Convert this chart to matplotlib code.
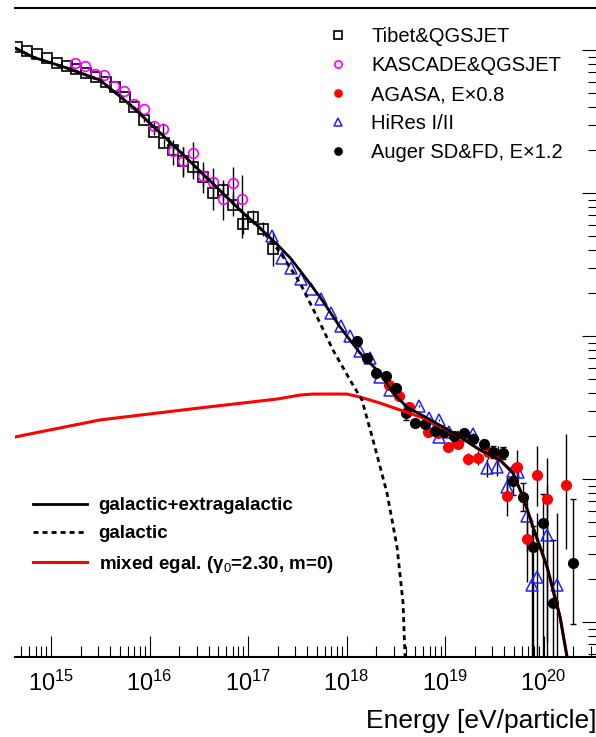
import numpy as np
import matplotlib.pyplot as plt
from matplotlib.ticker import FixedLocator, FuncFormatter

plt.rcParams['font.family'] = ['Liberation Sans', 'DejaVu Sans']
plt.rcParams['mathtext.fontset'] = 'custom'
plt.rcParams['mathtext.rm'] = 'Liberation Sans'
plt.rcParams['mathtext.it'] = 'Liberation Sans:italic'
plt.rcParams['mathtext.bf'] = 'Liberation Sans:bold'

# all values as log10(E/eV) and log10(flux, arbitrary units)
tibet_logE = [14.655, 14.756, 14.858, 14.959, 15.061, 15.162, 15.254, 15.355, 15.457, 15.558,
              15.650, 15.751, 15.843, 15.944, 16.046, 16.147, 16.239, 16.340, 16.442, 16.543,
              16.645, 16.746, 16.848, 16.949, 17.051, 17.152, 17.254]
tibet_logF = [27.021, 26.993, 26.972, 26.944, 26.909, 26.888, 26.867, 26.839, 26.811, 26.776,
              26.741, 26.671, 26.601, 26.510, 26.427, 26.350, 26.301, 26.224, 26.182, 26.112,
              26.000, 26.021, 25.916, 25.783, 25.832, 25.748, 25.608]
tibet_err = [0] * 12 + [0.01, 0.015, 0.02, 0.03, 0.04, 0.1, 0.05, 0.06, 0.12, 0.07,
                        0.08, 0.07, 0.05, 0.05, 0.12]

kascade_logE = [15.244, 15.345, 15.447, 15.538, 15.640, 15.741, 15.843, 15.944, 16.046, 16.137,
                16.239, 16.340, 16.442, 16.543, 16.645, 16.746, 16.848, 16.939]
kascade_logF = [26.909, 26.888, 26.832, 26.825, 26.748, 26.713, 26.622, 26.587, 26.469, 26.448,
                26.294, 26.224, 26.280, 26.119, 26.077, 25.958, 26.070, 25.958]
kascade_lo = [0] * 8 + [0.03, 0.04, 0.10, 0.11, 0.18, 0.12, 0.12, 0.15, 0.14, 0.27]
kascade_hi = [0] * 8 + [0.03, 0.04, 0.08, 0.10, 0.08, 0.10, 0.10, 0.12, 0.11, 0.17]

agasa_logE = [18.431, 18.533, 18.635, 18.827, 18.929, 19.030, 19.132, 19.234, 19.335, 19.437,
              19.538, 19.629, 19.731, 19.832, 19.934, 20.036, 20.228]
agasa_logF = [24.657, 24.580, 24.503, 24.329, 24.322, 24.224, 24.245, 24.140, 24.147, 24.189,
              24.168, 23.881, 24.084, 23.580, 24.028, 23.860, 23.958]
agasa_lo = [0.01, 0.01, 0.01, 0.02, 0.02, 0.03, 0.03, 0.04, 0.05, 0.05,
            0.06, 0.14, 0.12, 0.30, 0.22, 1.0, 0.45]
agasa_hi = [0.01, 0.01, 0.01, 0.02, 0.02, 0.03, 0.03, 0.04, 0.05, 0.05,
            0.06, 0.14, 0.12, 0.12, 0.20, 0.29, 0.36]

hires_logE = [17.244, 17.345, 17.437, 17.538, 17.640, 17.741, 17.843, 17.944, 18.036, 18.137,
              18.239, 18.340, 18.442, 18.736, 18.838, 18.939, 18.939, 19.041, 19.132, 19.284,
              19.426, 19.528, 19.629, 19.690, 19.741, 19.832, 19.883, 19.934, 20.036, 20.137]
hires_logF = [25.699, 25.545, 25.476, 25.399, 25.329, 25.259, 25.161, 25.070, 25.000, 24.895,
              24.846, 24.713, 24.622, 24.510, 24.427, 24.413, 24.294, 24.329, 24.294, 24.315,
              24.077, 24.084, 23.944, 24.056, 24.049, 23.741, 23.259, 23.315, 23.608, 23.259]
hires_lo = [0] * 12 + [0.01] * 8 + [0.06, 0.06, 0.08, 0.05, 0.05, 0.25, 2.0, 2.0, 2.0, 2.0]
hires_hi = [0] * 12 + [0.01] * 8 + [0.06, 0.06, 0.08, 0.05, 0.05, 0.15, 0.40, 0.45, 0.35, 0.50]

auger_logE = [18.107, 18.208, 18.299, 18.401, 18.503, 18.604, 18.695, 18.797, 18.898, 18.990,
              19.091, 19.193, 19.284, 19.396, 19.487, 19.589, 19.690, 19.792, 19.893, 19.995,
              20.096, 20.299]
auger_logF = [24.965, 24.846, 24.741, 24.720, 24.636, 24.462, 24.392, 24.385, 24.336, 24.329,
              24.301, 24.322, 24.280, 24.245, 24.189, 24.182, 23.986, 23.874, 23.524, 23.692,
              23.133, 23.413]
auger_lo = [0.01] * 5 + [0.05] + [0.01] * 4 + [0.02, 0.02, 0.02, 0.03, 0.04, 0.04, 0.10, 0.10,
                                               2.0, 2.0, 2.0, 0.43]
auger_hi = [0.01] * 5 + [0.05] + [0.01] * 4 + [0.02, 0.02, 0.02, 0.03, 0.04, 0.04, 0.10, 0.10,
                                               0.15, 0.20, 0.44, 0.45]

# model curves
total_logE = [14.635, 14.817, 15.162, 15.497, 15.832, 16.076, 16.239, 16.584, 16.919, 17.122,
              17.325, 17.430, 17.528, 17.731, 17.934, 18.137, 18.340, 18.472, 18.614, 18.817,
              19.122, 19.355, 19.558, 19.690, 19.792, 19.893, 20.036, 20.168, 20.239]
total_logF = [27.014, 26.951, 26.874, 26.790, 26.601, 26.441, 26.336, 26.105, 25.881, 25.755,
              25.620, 25.545, 25.458, 25.273, 25.063, 24.881, 24.741, 24.601, 24.503, 24.427,
              24.308, 24.203, 24.133, 24.042, 23.874, 23.664, 23.385, 23.035, 22.755]

gal_logE = [14.635, 14.817, 15.162, 15.497, 15.832, 16.076, 16.239, 16.584, 16.919, 17.122,
            17.325, 17.528, 17.701, 17.863, 18.036, 18.157, 18.269, 18.411, 18.513, 18.574, 18.594]
gal_logF = [27.014, 26.951, 26.874, 26.790, 26.601, 26.441, 26.336, 26.105, 25.881, 25.755,
            25.587, 25.371, 25.133, 24.902, 24.692, 24.552, 24.273, 23.902, 23.524, 23.133, 22.755]

egal_logE = [14.635, 15.497, 16.513, 17.294, 17.528, 17.660, 18.005, 18.137, 18.340, 18.543,
             18.777, 19.122, 19.355, 19.558, 19.690, 19.792, 19.893, 20.036, 20.168, 20.239]
egal_logF = [24.294, 24.413, 24.497, 24.559, 24.587, 24.594, 24.594, 24.573, 24.531, 24.483,
             24.427, 24.308, 24.203, 24.133, 24.042, 23.874, 23.664, 23.385, 23.035, 22.755]

x_decades = [15, 16, 17, 18, 19, 20]
xlim_log = (14.6345, 20.543)
ylim_log = (22.755, 27.294)


def p(a):
    return 10 ** np.array(a, dtype=float)


def yerr(logf, lo, hi):
    f = np.array(logf)
    return [p(f) - p(f - np.array(lo)), p(f + np.array(hi)) - p(f)]


fig = plt.figure(figsize=(5.96, 7.37), dpi=100)
ax = fig.add_axes([15 / 596, 1 - 657 / 737, 582 / 596, 649 / 737])
ax.set_xscale('log')
ax.set_yscale('log')

eb = dict(ecolor='black', elinewidth=1.0, linestyle='none', zorder=2)
tib = ax.errorbar(p(tibet_logE), p(tibet_logF), yerr=yerr(tibet_logF, tibet_err, tibet_err),
                  marker='s', ms=7.5, mfc='none', mec='black', mew=1.2, capsize=0, **eb)
kas = ax.errorbar(p(kascade_logE), p(kascade_logF), yerr=yerr(kascade_logF, kascade_lo, kascade_hi),
                  marker='o', ms=7, mfc='none', mec='#ff00ff', mew=1.2, capsize=0, **eb)
hir = ax.errorbar(p(hires_logE), p(hires_logF), yerr=yerr(hires_logF, hires_lo, hires_hi),
                  marker='^', ms=8, mfc='none', mec='#2020ff', mew=1.1, capsize=0, **eb)
aga = ax.errorbar(p(agasa_logE), p(agasa_logF), yerr=yerr(agasa_logF, agasa_lo, agasa_hi),
                  marker='o', ms=7, mfc='red', mec='red', capsize=0, **eb)
aug = ax.errorbar(p(auger_logE), p(auger_logF), yerr=yerr(auger_logF, auger_lo, auger_hi),
                  marker='o', ms=7, mfc='black', mec='black', capsize=2.5, **eb)

l_egal, = ax.plot(p(egal_logE), p(egal_logF), color='red', lw=2.2, zorder=3)
l_gal, = ax.plot(p(gal_logE), p(gal_logF), color='black', lw=2.0, dashes=(1.8, 1.45), zorder=3)
l_tot, = ax.plot(p(total_logE), p(total_logF), color='black', lw=2.0, zorder=4)

ax.set_xlim(p(xlim_log))
ax.set_ylim(p(ylim_log))

ax.spines['left'].set_visible(False)
ax.spines['right'].set_visible(False)
ax.spines['top'].set_linewidth(1.5)
ax.spines['bottom'].set_linewidth(1.5)

ax.xaxis.set_major_locator(FixedLocator(p(x_decades)))
ax.xaxis.set_major_formatter(FuncFormatter(lambda v, pos: r'$10^{%d}$' % round(np.log10(v))))
ax.xaxis.set_minor_locator(plt.LogLocator(base=10, subs=np.arange(2, 10), numticks=20))
ax.yaxis.set_major_locator(plt.LogLocator(base=10, numticks=20))
ax.yaxis.set_minor_locator(plt.LogLocator(base=10, subs=np.arange(2, 10), numticks=20))
ax.xaxis.set_minor_formatter(plt.NullFormatter())
ax.yaxis.set_minor_formatter(plt.NullFormatter())

ax.tick_params(axis='x', which='both', direction='in', bottom=True, top=False, width=0.8,
               labelsize=17, pad=10)
ax.tick_params(axis='x', which='major', length=15)
ax.tick_params(axis='x', which='minor', length=8)
ax.tick_params(axis='y', which='both', direction='in', left=False, right=True,
               labelleft=False, labelright=False, width=0.8)
ax.tick_params(axis='y', which='major', length=11)
ax.tick_params(axis='y', which='minor', length=6.5)

ax.set_xlabel('Energy [eV/particle]', loc='right', fontsize=19, labelpad=9)

leg1 = ax.legend([tib[0], kas[0], aga[0], hir[0], aug[0]],
                 ['Tibet&QGSJET', 'KASCADE&QGSJET', 'AGASA, E\u00d70.8', 'HiRes I/II',
                  'Auger SD&FD, E\u00d71.2'],
                 loc='upper left', bbox_to_anchor=(328 / 596, 1 - 27 / 737),
                 bbox_transform=fig.transFigure, frameon=False, fontsize=14.5, numpoints=1,
                 markerscale=0.75, handlelength=1.0, handletextpad=1.15, labelspacing=0.5,
                 borderpad=0, borderaxespad=0)
ax.add_artist(leg1)

ax.legend([l_tot, l_gal, l_egal],
          ['galactic+extragalactic', 'galactic', 'mixed egal. (\u03b3$_0$=2.30, m=0)'],
          loc='upper left', bbox_to_anchor=(33 / 596, 1 - 497 / 737),
          bbox_transform=fig.transFigure, frameon=False,
          prop={'size': 13.5, 'weight': 'bold'}, handlelength=2.9, handletextpad=0.6,
          labelspacing=0.6, borderpad=0, borderaxespad=0)

fig.savefig('out.png', dpi=100)
